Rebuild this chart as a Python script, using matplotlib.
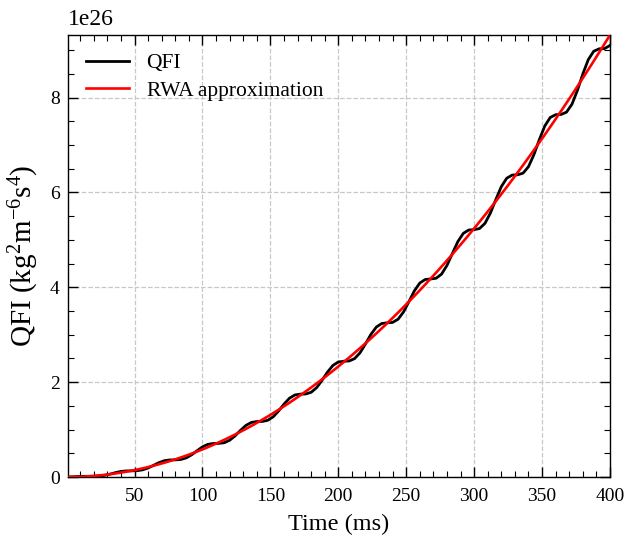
""" QFI versus time, compared with the RWA approximation.
"""
##### IMPORTS #####
import numpy as np
import matplotlib
matplotlib.use('Agg')
import matplotlib.pyplot as plt
from matplotlib.ticker import MultipleLocator

##### DATA (values in units of 1e26) #####
TIME_MS = np.arange(0, 401, 4)

QFI = [
    0.0, 0.00335, 0.00986, 0.01383, 0.01445, 0.01537, 0.02103, 0.03576,
    0.06152, 0.09282, 0.1178, 0.1288, 0.1301, 0.1338, 0.1519, 0.1904,
    0.2461, 0.3037, 0.3444, 0.3600, 0.3614, 0.3696, 0.4030, 0.4677,
    0.5535, 0.6356, 0.6889, 0.7071, 0.7085, 0.7233, 0.7748, 0.8677,
    0.9836, 1.0880, 1.1510, 1.1698, 1.1717, 1.1953, 1.2680, 1.3909,
    1.5362, 1.6603, 1.7301, 1.7481, 1.7512, 1.7862, 1.8829, 2.0371,
    2.2110, 2.3519, 2.4258, 2.4419, 2.4473, 2.4966, 2.6200, 2.8065,
    3.0074, 3.1623, 3.2376, 3.2512, 3.2606, 3.3270, 3.4797, 3.6991,
    3.9252, 4.0909, 4.1653, 4.1760, 4.1913, 4.2780, 4.4623, 4.7147,
    4.9639, 5.1373, 5.2085, 5.2164, 5.2401, 5.3501, 5.5681, 5.8533,
    6.1228, 6.3007, 6.3670, 6.3728, 6.4074, 6.5439, 6.7973, 7.1143,
    7.4015, 7.5808, 7.6407, 7.6454, 7.6938, 7.8599, 8.1500, 8.4978,
    8.7994, 8.9769, 9.0294, 9.0345, 9.1000,
]

RWA = [
    0.0, 0.00093, 0.00373, 0.00839, 0.01491, 0.0233, 0.03355, 0.04567,
    0.05965, 0.07549, 0.0932, 0.11277, 0.13421, 0.15751, 0.18267, 0.2097,
    0.23859, 0.26935, 0.30197, 0.33645, 0.3728, 0.41101, 0.45109, 0.49303,
    0.53683, 0.5825, 0.63003, 0.67943, 0.73069, 0.78381, 0.8388, 0.89565,
    0.95437, 1.01495, 1.07739, 1.1417, 1.20787, 1.27591, 1.34581, 1.41757,
    1.4912, 1.56669, 1.64405, 1.72327, 1.80435, 1.8873, 1.97211, 2.05879,
    2.14733, 2.23773, 2.33, 2.42413, 2.52013, 2.61799, 2.71771, 2.8193,
    2.92275, 3.02807, 3.13525, 3.24429, 3.3552, 3.46797, 3.58261, 3.69911,
    3.81747, 3.9377, 4.05979, 4.18375, 4.30957, 4.43725, 4.5668, 4.69821,
    4.83149, 4.96663, 5.10363, 5.2425, 5.38323, 5.52583, 5.67029, 5.81661,
    5.9648, 6.11485, 6.26677, 6.42055, 6.57619, 6.7337, 6.89307, 7.05431,
    7.21741, 7.38237, 7.5492, 7.71789, 7.88845, 8.06087, 8.23515, 8.4113,
    8.58931, 8.76919, 8.95093, 9.13453, 9.32,
]

SCALE = 1e26

##### STYLE #####
plt.rcParams['font.family'] = ['Liberation Serif', 'DejaVu Serif']
plt.rcParams['mathtext.fontset'] = 'custom'
plt.rcParams['mathtext.rm'] = 'Liberation Serif'
plt.rcParams['mathtext.it'] = 'Liberation Serif:italic'
plt.rcParams['axes.linewidth'] = 1.0


def plot_graph():
    fig = plt.figure(figsize=(6.26, 5.39), dpi=100)
    ax = fig.add_axes([0.1086, 0.115, 0.8658, 0.820])

    qfi = np.array(QFI) * SCALE
    rwa = np.array(RWA) * SCALE

    ax.plot(TIME_MS, qfi, color='black', lw=2.0, label='QFI', zorder=3)
    ax.plot(TIME_MS, rwa, color='red', lw=1.9, label='RWA approximation', zorder=4)

    ax.set_xlim(1, 400)
    ax.set_ylim(0, rwa.max())

    ax.xaxis.set_major_locator(MultipleLocator(50))
    ax.xaxis.set_minor_locator(MultipleLocator(10))
    ax.yaxis.set_major_locator(MultipleLocator(2 * SCALE))
    ax.yaxis.set_minor_locator(MultipleLocator(0.5 * SCALE))

    ax.tick_params(which='both', direction='in', top=True, right=True,
                   labelsize=14)
    ax.tick_params(axis='x', which='both', pad=8)
    ax.tick_params(axis='y', which='both', pad=6)
    ax.tick_params(which='major', length=7, width=1.0)
    ax.tick_params(which='minor', length=4, width=0.8)

    # "1e26" sits a little above the frame
    ax.yaxis.OFFSETTEXTPAD = 7
    ax.yaxis.get_offset_text().set_fontsize(17)

    ax.grid(True, which='major', ls='--', color='#c8c8c8', lw=0.9)

    ax.set_xlabel('Time (ms)', fontsize=17.5, labelpad=6)
    ax.set_ylabel(r'QFI (kg$^2$m$^{-6}$s$^4$)', fontsize=21, labelpad=6)

    ax.legend(loc='upper left', frameon=False, fontsize=15.5,
              borderaxespad=0.45, labelspacing=0.35)

    fig.savefig('out.png', dpi=100)


##### MAIN PROGRAM #####
def main():
    plot_graph()


main()
